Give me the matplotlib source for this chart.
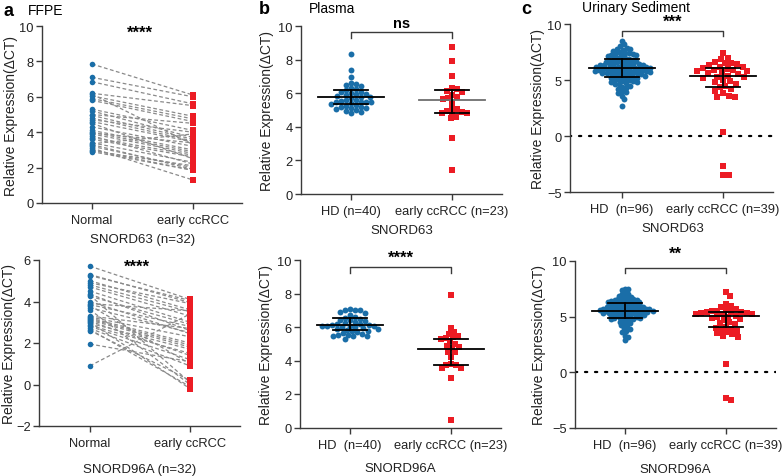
import numpy as np
import matplotlib
matplotlib.use("Agg")
import matplotlib.pyplot as plt

plt.rcParams['font.family'] = ['Liberation Sans', 'DejaVu Sans']

# ---------------- data ----------------
groups_a = ["Normal", "early ccRCC"]
a_top_normal = [7.85, 7.1, 6.85, 6.2, 6.15, 6.05, 5.9, 5.8, 5.3, 5.2, 5.0, 4.95, 4.8, 4.7, 4.6, 4.5,
                4.3, 4.1, 4.0, 3.95, 3.9, 3.8, 3.7, 3.6, 3.4, 3.35, 3.3, 3.2, 3.1, 3.0, 2.95, 2.9]
a_top_ccrcc = [6.1, 6.0, 5.6, 5.5, 3.3, 4.9, 4.75, 4.6, 4.1, 3.7, 4.5, 3.6, 3.5, 4.0, 3.45, 2.5,
               3.2, 3.0, 2.9, 3.4, 2.8, 2.2, 2.7, 2.6, 2.3, 3.9, 1.9, 2.0, 1.3, 1.85, 2.1, 1.85]
a_bot_normal = [5.7, 5.3, 5.25, 5.0, 4.9, 4.8, 4.7, 4.5, 4.35, 4.3, 4.25, 4.0, 3.9, 3.85, 3.8, 3.7,
                3.6, 3.25, 3.2, 3.15, 3.1, 3.05, 3.0, 2.95, 2.85, 2.8, 2.7, 2.65, 2.6, 1.95, 0.9, 3.3]
a_bot_ccrcc = [4.1, 3.95, 4.05, 3.6, 3.9, 3.5, 3.3, 3.0, 2.6, 0.1, 2.9, 2.45, 3.55, 2.8, 1.0, 2.5,
               0.0, 2.3, 2.0, 1.9, 1.8, 1.4, -0.2, 1.7, 1.5, 1.2, 0.9, -0.1, 0.2, 1.1, 3.4, 2.7]

groups_b = ["HD (n=40)", "early ccRCC (n=23)"]
groups_b2 = ["HD  (n=40)", "early ccRCC (n=23)"]
b_top_hd = [8.35, 7.4, 6.95, 6.6, 6.55, 6.5, 6.4, 6.3, 6.25, 6.2, 6.1, 6.05, 6.0, 5.95, 5.9, 5.85,
            5.8, 5.75, 5.7, 5.6, 5.55, 5.5, 5.5, 5.5, 5.45, 5.4, 5.35, 5.3, 5.25, 5.2, 5.15, 5.1,
            5.1, 5.05, 5.0, 4.95, 4.9, 4.8, 5.6, 5.95]
b_top_cc = [8.75, 7.9, 7.05, 6.3, 6.25, 6.15, 6.1, 5.9, 5.75, 5.7, 5.65, 5.4, 5.1, 5.05, 4.95, 4.9,
            4.85, 4.85, 4.8, 4.6, 4.5, 3.35, 1.45]
b_bot_hd = [7.1, 7.05, 7.05, 7.0, 6.9, 6.85, 6.7, 6.6, 6.55, 6.5, 6.45, 6.4, 6.35, 6.3, 6.25, 6.2,
            6.2, 6.15, 6.15, 6.1, 6.1, 6.1, 6.05, 6.0, 6.0, 5.95, 5.9, 5.9, 5.85, 5.8, 5.75, 5.7,
            5.65, 5.6, 5.55, 5.55, 5.5, 5.5, 5.45, 5.3]
b_bot_cc = [7.9, 5.95, 5.7, 5.6, 5.5, 5.4, 5.35, 5.3, 5.15, 5.0, 4.9, 4.8, 4.75, 4.55, 4.5, 4.2,
            3.8, 3.75, 3.75, 3.6, 3.55, 2.95, 0.5]

groups_c = ["HD  (n=96)", "early ccRCC (n=39)"]
c_top_hd = [8.5, 8.2, 8.0, 7.9, 7.8, 7.8, 7.7, 7.6, 7.5, 7.4, 7.4, 7.3, 7.3, 7.2, 7.2, 7.1, 7.0, 7.0,
            6.9, 6.9, 6.8, 6.8, 6.7, 6.7, 6.6, 6.6, 6.5, 6.5, 6.4, 6.4, 6.4, 6.3, 6.3, 6.3, 6.2, 6.2,
            6.2, 6.1, 6.1, 6.1, 6.0, 6.0, 6.0, 5.9, 5.9, 5.9, 5.8, 5.8, 5.8, 5.7, 5.7, 5.7, 5.6, 5.6,
            5.6, 5.5, 5.5, 5.5, 5.4, 5.4, 5.3, 5.3, 5.2, 5.2, 5.1, 5.1, 5.0, 5.0, 4.9, 4.9, 4.8, 4.8,
            4.7, 4.6, 4.5, 4.4, 4.3, 4.2, 4.0, 3.9, 3.8, 3.6, 3.3, 2.7, 6.65, 6.35, 6.05, 5.95, 5.75,
            5.65, 6.25, 5.85, 7.25, 5.45, 6.15, 4.65]
c_top_cc = [7.4, 7.0, 6.9, 6.6, 6.5, 6.5, 6.4, 6.3, 6.2, 6.15, 6.1, 6.0, 5.9, 5.85, 5.8, 5.8, 5.7,
            5.6, 5.5, 5.4, 5.3, 5.3, 5.2, 5.0, 4.9, 4.8, 4.6, 4.5, 4.4, 4.2, 4.0, 3.8, 3.6, 3.5, 3.5,
            0.4, -2.7, -3.5, -3.5]
c_bot_hd = [7.5, 7.5, 7.4, 7.2, 7.0, 6.9, 6.8, 6.7, 6.6, 6.6, 6.5, 6.5, 6.4, 6.4, 6.3, 6.3, 6.2, 6.2,
            6.1, 6.1, 6.0, 6.0, 6.0, 5.9, 5.9, 5.9, 5.8, 5.8, 5.8, 5.7, 5.7, 5.7, 5.7, 5.6, 5.6, 5.6,
            5.6, 5.5, 5.5, 5.5, 5.5, 5.4, 5.4, 5.4, 5.3, 5.3, 5.3, 5.2, 5.2, 5.2, 5.1, 5.1, 5.0, 5.0,
            4.9, 4.9, 4.8, 4.8, 4.7, 4.6, 4.5, 4.4, 4.3, 4.1, 3.9, 3.7, 3.6, 3.3, 3.2, 2.9, 6.05, 5.95,
            5.85, 5.75, 5.65, 5.45, 5.35, 5.25, 5.15, 6.15, 6.25, 6.35, 6.45, 5.05, 4.95, 4.85, 4.75,
            6.85, 7.05, 5.55, 5.45, 5.65, 4.55, 4.25, 3.95, 6.55]
c_bot_cc = [7.2, 6.85, 6.1, 6.0, 5.9, 5.7, 5.6, 5.5, 5.5, 5.4, 5.4, 5.3, 5.3, 5.2, 5.2, 5.1, 5.0, 5.0,
            4.9, 4.8, 4.7, 4.5, 4.4, 4.3, 4.1, 4.0, 3.9, 3.8, 3.7, 3.6, 3.5, 3.4, 3.3, 3.2, 5.45, 5.25,
            0.75, -2.35, -2.5]

# mean and SD bars (mean, lower, upper)
b_top_stats = [(5.75, 5.35, 6.22), (5.6, 4.85, 6.2)]
b_bot_stats = [(6.15, 5.85, 6.55), (4.7, 3.75, 5.3)]
c_top_stats = [(6.1, 5.3, 6.9), (5.4, 4.35, 6.05)]
c_bot_stats = [(5.55, 4.9, 6.25), (5.1, 4.1, 5.45)]

sig_a = ["****", "****"]
sig_b = ["ns", "****"]
sig_c = ["***", "**"]

BLUE = "#1a6ea8"
RED = "#ec1c24"
SPINE = "#3a3a3a"
TXT = "#222222"

W, H = 783, 477
fig = plt.figure(figsize=(W / 100, H / 100), dpi=100)


def make_ax(x0, x1, ytop, ybot, ylo, yhi, c0, c1, yticks, cats, xlabel, xlab_px, ylab_px):
    ax = fig.add_axes([x0 / W, 1 - ybot / H, (x1 - x0) / W, (ybot - ytop) / H])
    ppu = c1 - c0
    ax.set_xlim(-(c0 - x0) / ppu, 1 + (x1 - c1) / ppu)
    ax.set_ylim(ylo, yhi)
    ax.set_yticks(yticks)
    ax.set_xticks([0, 1])
    ax.set_xticklabels(cats)
    for s in ["top", "right"]:
        ax.spines[s].set_visible(False)
    for s in ["left", "bottom"]:
        ax.spines[s].set_color(SPINE)
        ax.spines[s].set_linewidth(1.0)
    ax.tick_params(direction="out", length=4, width=1.0, color=SPINE, labelsize=9.3,
                   labelcolor=TXT, pad=2)
    ax.tick_params(axis="x", pad=4)
    ax.set_xlabel(xlabel, fontsize=9.5, color=TXT)
    ax.xaxis.label.set_verticalalignment("center")
    ax.xaxis.set_label_coords((0.5 * (c0 + c1) - x0) / (x1 - x0), -xlab_px / (ybot - ytop))
    ax.set_ylabel("Relative Expression(ΔCT)", fontsize=10, color=TXT)
    ax.yaxis.label.set_verticalalignment("center")
    ax.yaxis.set_label_coords((ylab_px - x0) / (x1 - x0), 0.5)
    ax.patch.set_alpha(0)
    ax.ppx = ppu
    ax.ppy = (ybot - ytop) / (yhi - ylo)
    return ax


def swarm_offsets(vals, ppx, ppy, d):
    vals = np.asarray(vals, float)
    order = np.argsort(-vals)
    placed = []
    offs = np.zeros(len(vals))
    steps = np.arange(0, 80) * d * 0.2
    cands = [0.0]
    for s in steps[1:]:
        cands += [s, -s]
    for i in order:
        yp = vals[i] * ppy
        for c in cands:
            if all((c - px) ** 2 + (yp - py) ** 2 >= d * d for px, py in placed):
                break
        placed.append((c, yp))
        offs[i] = c / ppx
    return offs


def paired(ax, left, right, sig, sig_y):
    for y0, y1 in zip(left, right):
        ax.plot([0, 1], [y0, y1], ls=(0, (3, 2)), color="#8a8a8a", lw=0.9, zorder=1)
    ax.scatter(np.zeros(len(left)), left, s=16, marker="o", color=BLUE, zorder=3, linewidths=0)
    ax.scatter(np.ones(len(right)), right, s=20, marker="s", color=RED, zorder=3, linewidths=0)
    ax.text(0.47, sig_y, sig, ha="center", va="center", fontsize=12, fontweight="bold", clip_on=False)


def scatter_group(ax, hd, cc, stats, sig, br_y, br_lo, sig_y, mean_colors=("black", "black"),
                  d=(5.0, 5.0)):
    for k, (vals, col, mk, sz) in enumerate([(hd, BLUE, "o", 18), (cc, RED, "s", 20)]):
        offs = swarm_offsets(vals, ax.ppx, ax.ppy, d[k])
        ax.scatter(k + offs, vals, s=sz, marker=mk, color=col, zorder=2, linewidths=0)
    for k, (m, lo, hi) in enumerate(stats):
        ax.plot([k - 0.33, k + 0.33], [m, m], color=mean_colors[k], lw=1.3, zorder=4)
        ax.plot([k - 0.17, k + 0.17], [lo, lo], color="black", lw=1.3, zorder=4)
        ax.plot([k - 0.17, k + 0.17], [hi, hi], color="black", lw=1.3, zorder=4)
        ax.plot([k, k], [lo, hi], color="black", lw=1.3, zorder=4)
    ax.plot([0, 0, 1, 1], [br_lo, br_y, br_y, br_lo], color=SPINE, lw=1.0, clip_on=False, zorder=5)
    ax.text(0.5, sig_y, sig, ha="center", va="center", fontsize=12 if "*" in sig else 10.5,
            fontweight="bold", clip_on=False)


# panel a
ax = make_ax(42, 242, 27, 204, 0, 10, 92, 193, [0, 2, 4, 6, 8, 10], groups_a, "SNORD63 (n=32)", 36, 11)
paired(ax, a_top_normal, a_top_ccrcc, sig_a[0], 9.65)
ax = make_ax(39, 240, 261, 427, -2, 6, 90, 190, [-2, 0, 2, 4, 6], groups_a, "SNORD96A (n=32)", 43, 9)
paired(ax, a_bot_normal, a_bot_ccrcc, sig_a[1], 5.7)

# panel b
ax = make_ax(301, 502, 27, 195, 0, 10, 351, 452, [0, 2, 4, 6, 8, 10], groups_b, "SNORD63", 36, 267)
scatter_group(ax, b_top_hd, b_top_cc, b_top_stats, sig_b[0], 9.62, 9.3, 10.2, ("black", "#6e6e6e"))
ax = make_ax(300, 501, 261, 429, 0, 10, 350, 451, [0, 2, 4, 6, 8, 10], groups_b2, "SNORD96A", 40, 266)
scatter_group(ax, b_bot_hd, b_bot_cc, b_bot_stats, sig_b[1], 9.6, 9.2, 10.15)

# panel c
ax = make_ax(570, 773, 25, 193, -5, 10, 622, 723, [-5, 0, 5, 10], groups_c, "SNORD63", 36, 538)
ax.plot([-0.52, 1.5], [0, 0], ls=(0, (1, 3.5)), color="black", lw=1.6, dash_capstyle="round", zorder=1)
scatter_group(ax, c_top_hd, c_top_cc, c_top_stats, sig_c[0], 9.4, 8.95, 10.25, d=(3.8, 5.8))
ax = make_ax(575, 776, 262, 429, -5, 10, 625, 726, [-5, 0, 5, 10], groups_c, "SNORD96A", 41, 539)
ax.plot([-0.5, 1.5], [0, 0], ls=(0, (1, 3.5)), color="black", lw=1.6, dash_capstyle="round", zorder=1)
scatter_group(ax, c_bot_hd, c_bot_cc, c_bot_stats, sig_c[1], 9.37, 8.9, 10.7, d=(3.4, 5.4))

# panel letters and titles
def ftext(x, y, s, **kw):
    fig.text(x / W, 1 - y / H, s, va="center", **kw)

ftext(4, 12, "a", fontsize=13, fontweight="bold")
ftext(28, 11, "FFPE", fontsize=10)
ftext(259, 10, "b", fontsize=13, fontweight="bold")
ftext(309, 9, "Plasma", fontsize=10)
ftext(521, 10, "c", fontsize=13, fontweight="bold")
ftext(582, 8, "Urinary Sediment", fontsize=10)

fig.savefig("out.png", dpi=100)
